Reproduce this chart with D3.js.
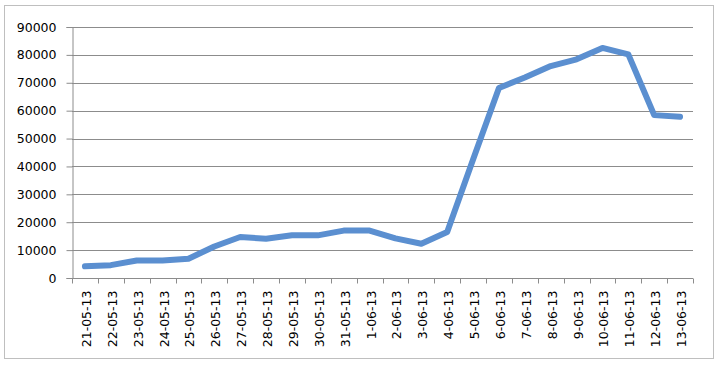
<!DOCTYPE html>
<html>
  <head>
    <script src="https://d3js.org/d3.v7.min.js"></script>
    <style>
      body { margin: 0; background: #fff; }
      text { font-family: "DejaVu Sans", sans-serif; font-size: 12.5px; fill: #000; }
    </style>
  </head>
  <body>
    <div id="container"></div>

    <script type="text/javascript">
      // Dates along the bottom
      var dates = [
        "21-05-13", "22-05-13", "23-05-13", "24-05-13", "25-05-13", "26-05-13",
        "27-05-13", "28-05-13", "29-05-13", "30-05-13", "31-05-13", "1-06-13",
        "2-06-13", "3-06-13", "4-06-13", "5-06-13", "6-06-13", "7-06-13",
        "8-06-13", "9-06-13", "10-06-13", "11-06-13", "12-06-13", "13-06-13"
      ];

      // Values
      var values = [
        4200, 4600, 6300, 6300, 6900, 11300,
        14700, 14100, 15300, 15300, 17000, 17000,
        14200, 12300, 16500, 42500, 68100, 71900,
        76000, 78400, 82500, 80200, 58400, 57800
      ];

      var yTicks = [0, 10000, 20000, 30000, 40000, 50000, 60000, 70000, 80000, 90000];

      var width = 719,
          height = 367;
      // plot area edges (note: "top" is reserved by window, so use plot*)
      var plotLeft = 72, plotRight = 693, plotTop = 27, plotBottom = 278;

      var svg = d3.select("#container").append("svg")
        .attr("width", width)
        .attr("height", height);

      // outer chart frame
      svg.append("rect")
        .attr("x", 4.5).attr("y", 5.5)
        .attr("width", 709).attr("height", 353)
        .attr("fill", "#fff")
        .attr("stroke", "#bfbfbf");

      var x = d3.scaleBand().domain(dates).range([plotLeft, plotRight]);
      var y = d3.scaleLinear().domain([0, 90000]).range([plotBottom, plotTop]);

      // gridlines
      svg.append("g")
        .selectAll("line")
        .data(yTicks.slice(1))
        .enter().append("line")
          .attr("x1", plotLeft).attr("x2", plotRight)
          .attr("y1", function(d) { return Math.round(y(d)) + 0.5; })
          .attr("y2", function(d) { return Math.round(y(d)) + 0.5; })
          .attr("stroke", "#8c8c8c");

      // y axis
      var yAxis = svg.append("g")
        .attr("transform", "translate(" + (plotLeft + 0.5) + ",0)")
        .call(d3.axisLeft(y).tickValues(yTicks).tickSize(6).tickPadding(10).tickFormat(d3.format("d")));
      yAxis.select(".domain").attr("stroke", "#8c8c8c");
      yAxis.selectAll(".tick line").attr("stroke", "#8c8c8c");
      yAxis.selectAll("text")
        .style("font-size", "12.5px")
        .style("font-family", "DejaVu Sans, sans-serif")
        .attr("fill", "#000");

      // x axis: ticks sit on the band edges
      var xg = svg.append("g")
        .attr("transform", "translate(0," + (plotBottom + 0.5) + ")");
      xg.append("line")
        .attr("x1", plotLeft).attr("x2", plotRight)
        .attr("stroke", "#8c8c8c");
      xg.selectAll("line.tk")
        .data(dates.concat(["end"]))
        .enter().append("line")
          .attr("class", "tk")
          .attr("x1", function(d, i) { return Math.round(plotLeft + i * x.bandwidth()) + 0.5; })
          .attr("x2", function(d, i) { return Math.round(plotLeft + i * x.bandwidth()) + 0.5; })
          .attr("y1", 0).attr("y2", 5)
          .attr("stroke", "#8c8c8c");
      xg.selectAll("text")
        .data(dates)
        .enter().append("text")
          .attr("transform", function(d) {
            return "translate(" + (x(d) + x.bandwidth() / 2 + 6) + ",12) rotate(-90)";
          })
          .attr("text-anchor", "end")
          .text(function(d) { return d; });

      // the series line
      var line = d3.line()
        .x(function(d, i) { return x(dates[i]) + x.bandwidth() / 2; })
        .y(function(d) { return y(d); });

      svg.append("path")
        .datum(values)
        .attr("d", line)
        .attr("fill", "none")
        .attr("stroke", "#5b8fd0")
        .attr("stroke-width", 6)
        .attr("stroke-linejoin", "round")
        .attr("stroke-linecap", "round");
    </script>
  </body>
</html>
